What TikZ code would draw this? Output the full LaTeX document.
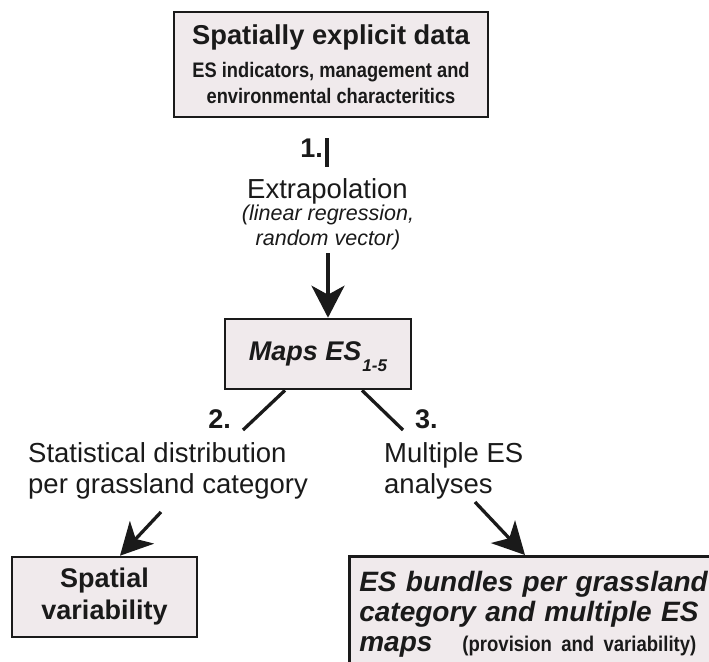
\documentclass[tikz,border=0pt]{standalone}
\usepackage{fontspec}
\setmainfont{Liberation Sans}
\newfontface\narrowbf[FakeStretch=0.87]{Liberation Sans Bold}
\usetikzlibrary{arrows.meta}
\definecolor{boxfill}{HTML}{F0EAEC}
\definecolor{ink}{HTML}{1A1A1A}
\begin{document}
\begin{tikzpicture}[x=1pt,y=-1pt,
  box/.style={draw=ink, line width=2.6pt, fill=boxfill, inner sep=0pt, text=ink},
  lbl/.style={text=ink, inner sep=0pt},
  conn/.style={draw=ink, line width=3.3pt},
  arr/.style={conn, -{Stealth[length=32pt,width=33pt,inset=9pt]}},
  f27/.style={font=\fontsize{27.5}{31}\selectfont},
  num/.style={lbl, font=\bfseries\fontsize{27}{31}\selectfont},
]
\fill[white] (0,0) rectangle (709,661);
\path[use as bounding box] (0,0) rectangle (709,661);

% top box
\node[box, minimum width=314pt, minimum height=105pt, align=center,
      font=\narrowbf\fontsize{21}{26}\selectfont] (top) at (331,64.5)
 {{\normalfont\bfseries\fontsize{27.3}{33}\selectfont Spatially explicit data}\\[7pt]
  ES indicators, management and\\ environmental characteritics};

% step 1
\node[num, anchor=base east] (n1) at (323,157) {1.};
\coordinate (l1a) at (327,138);
\coordinate (l1b) at (327,167);
\draw[conn, line width=3.5pt] (l1a) -- (l1b);
\node[lbl, f27, anchor=base] (extrap) at (327.5,198) {Extrapolation};
\node[lbl, font=\itshape\fontsize{21.5}{25}\selectfont, align=center, anchor=north]
  (method) at (328,205) {(linear regression,\\random vector)};

% maps box
\node[box, minimum width=186pt, minimum height=70pt,
      font=\bfseries\itshape\fontsize{27}{31}\selectfont] (maps) at (318,354)
  {Maps ES\kern1pt\smash{\raisebox{-11pt}{\fontsize{17}{17}\selectfont 1-5}}};
\coordinate (a1s) at (328,253);
\draw[arr] (a1s) -- (a1s |- maps.north);

% steps 2 and 3
\coordinate (l2e) at (243,430);
\coordinate (l3e) at (403,430);
\draw[conn] ([xshift=-33pt]maps.south) -- (l2e);
\draw[conn] ([xshift=44pt]maps.south) -- (l3e);
\node[num, anchor=base east] (n2) at (231,428) {2.};
\node[num, anchor=base west] (n3) at (415,428) {3.};

\node[lbl, f27, align=left, anchor=north west] (stat) at (28,442.4)
  {Statistical distribution\\per grassland category};
\node[lbl, f27, align=left, anchor=north west] (multi) at (384,442.4)
  {Multiple ES\\analyses};

% result boxes
\node[box, minimum width=185pt, minimum height=80pt, align=center,
      font=\bfseries\fontsize{27}{32}\selectfont] (spat) at (104.5,597)
  {Spatial\\variability};
\node[box, anchor=north west, minimum height=115pt, text width=400pt,
      inner xsep=10pt, align=left,
      font=\bfseries\itshape\fontsize{28}{30}\selectfont] (bund) at (348,555)
  {ES bundles per grassland\\category and multiple ES\\maps\hspace{30pt}{\narrowbf\fontsize{21.3}{30}\selectfont (provision and variability)}};

\coordinate (a2s) at (161,512);
\coordinate (a3s) at (475,502);
\draw[arr] (a2s) -- ([xshift=15.5pt]spat.north);
\draw[arr] (a3s) -- ([xshift=177pt]bund.north west);
\end{tikzpicture}
\end{document}
